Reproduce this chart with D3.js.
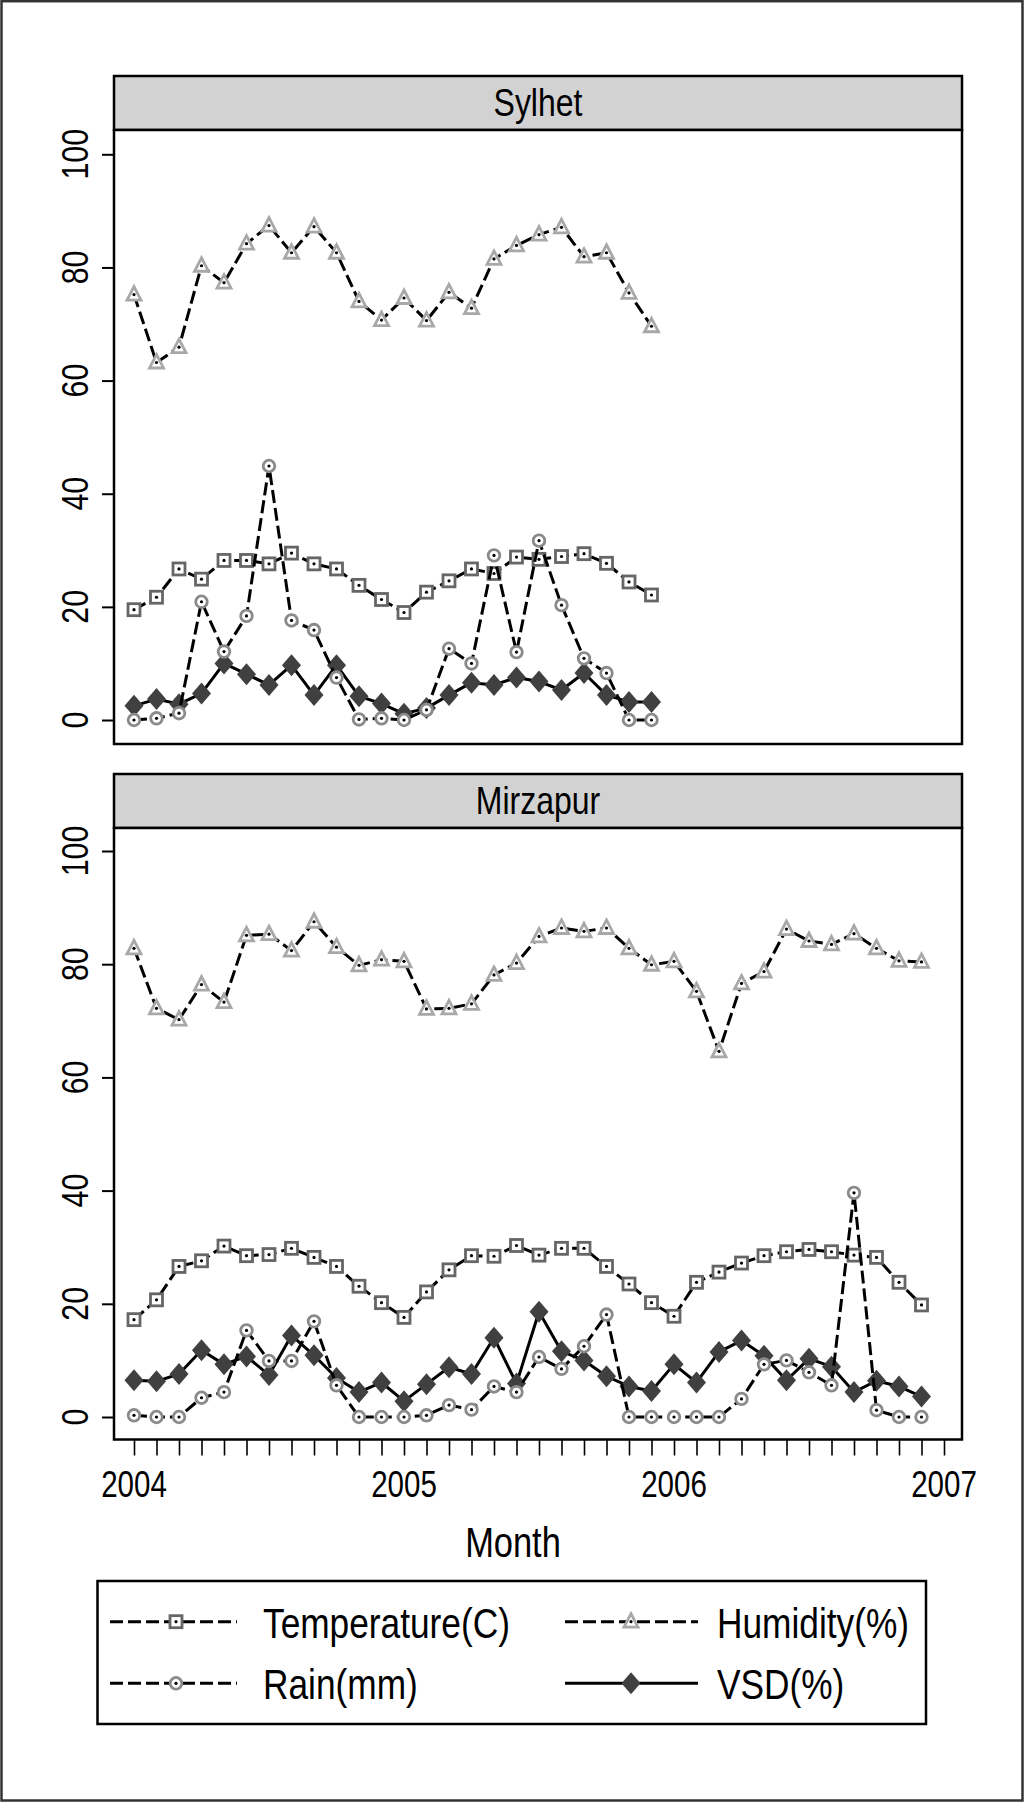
<!DOCTYPE html>
<html><head><meta charset="utf-8">
<script src="https://cdn.jsdelivr.net/npm/d3@7"></script>
<style>html,body{margin:0;padding:0;background:#fff;} svg{display:block;}</style>
</head><body>
<svg id="chart" width="1024" height="1802"></svg>
<script>
// ---------------- DATA ----------------
const panels = ["Sylhet", "Mirzapur"];
const seriesNames = ["Temperature(C)", "Humidity(%)", "Rain(mm)", "VSD(%)"];
const yearLabels = ["2004", "2005", "2006", "2007"];
const yTicks = [0, 20, 40, 60, 80, 100];
const xAxisTitle = "Month";

// Sylhet: Jan 2004 - Dec 2005 (24 months)
const sylhetTemp = [19.5, 21.7, 26.7, 24.9, 28.2, 28.2, 27.6, 29.5, 27.6, 26.7, 23.8, 21.3,
                    19.0, 22.6, 24.6, 26.7, 25.9, 28.8, 28.4, 28.9, 29.4, 27.7, 24.4, 22.1];
const sylhetHum  = [75.2, 63.2, 65.9, 80.3, 77.3, 84.2, 87.4, 82.6, 87.2, 82.6, 74.0, 70.7,
                    74.6, 70.6, 75.6, 72.8, 81.5, 83.9, 85.8, 87.1, 81.9, 82.6, 75.5, 69.6];
const sylhetRain = [0.0, 0.3, 1.2, 20.9, 12.1, 18.4, 44.9, 17.6, 15.9, 7.5, 0.1, 0.3,
                    0.0, 1.8, 12.6, 10.0, 29.1, 12.0, 31.7, 20.3, 10.9, 8.3, 0.0, 0.0];
const sylhetVSD  = [2.5, 3.7, 2.8, 4.7, 10.0, 8.1, 6.2, 9.7, 4.4, 9.7, 4.2, 2.9,
                    1.1, 2.1, 4.4, 6.6, 6.2, 7.5, 6.8, 5.3, 8.3, 4.4, 3.2, 3.2];

// Mirzapur: Jan 2004 - Dec 2006 (36 months)
const mirzTemp = [17.2, 20.7, 26.6, 27.6, 30.2, 28.5, 28.7, 29.8, 28.2, 26.6, 23.1, 20.2,
                  17.6, 22.1, 26.0, 28.5, 28.4, 30.3, 28.6, 29.8, 29.8, 26.6, 23.5, 20.2,
                  17.8, 23.8, 25.6, 27.2, 28.5, 29.2, 29.6, 29.2, 28.6, 28.2, 23.8, 19.8];
const mirzHum  = [82.8, 72.2, 70.2, 76.4, 73.3, 85.1, 85.3, 82.4, 87.5, 83.0, 79.8, 80.8,
                  80.5, 72.1, 72.2, 73.0, 78.1, 80.2, 84.9, 86.4, 85.8, 86.4, 82.8, 79.9,
                  80.5, 75.2, 64.6, 76.6, 78.7, 86.2, 84.1, 83.5, 85.4, 82.8, 80.6, 80.4];
const mirzRain = [0.3, 0.0, 0.0, 3.4, 4.4, 15.3, 9.9, 9.9, 16.9, 5.6, 0.0, 0.0,
                  0.0, 0.3, 2.1, 1.3, 5.4, 4.4, 10.6, 8.5, 12.5, 18.1, 0.0, 0.0,
                  0.0, 0.0, 0.0, 3.2, 9.3, 10.0, 7.9, 5.6, 39.6, 1.2, 0.0, 0.0];
const mirzVSD  = [6.5, 6.3, 7.6, 11.8, 9.3, 10.7, 7.4, 14.4, 10.9, 6.9, 4.4, 6.1,
                  2.8, 5.8, 8.8, 7.6, 14.0, 5.9, 18.6, 11.6, 10.0, 7.2, 5.4, 4.6,
                  9.3, 6.1, 11.5, 13.5, 10.8, 6.5, 10.3, 8.9, 4.4, 6.4, 5.4, 3.6];

const panelData = [
  [sylhetTemp, sylhetHum, sylhetRain, sylhetVSD],
  [mirzTemp, mirzHum, mirzRain, mirzVSD]
];

// ---------------- LAYOUT / STYLE ----------------
const FONT = "'Liberation Sans Narrow','Arial Narrow',sans-serif";
const svg = d3.select("#chart");
const plotL = 114, plotR = 962;
const geom = [
  {stripTop: 76,  plotTop: 130, plotBottom: 744,  y0: 720,  y100: 154.3},
  {stripTop: 774, plotTop: 828, plotBottom: 1439.5, y0: 1417, y100: 851}
];
const x = d3.scaleLinear().domain([0, 36]).range([134, 944]);

const seriesStyle = [
  {marker: "square",   color: "#666666", dash: "13,5"},
  {marker: "triangle", color: "#a8a8a8", dash: "13,5"},
  {marker: "circle",   color: "#8a8a8a", dash: "13,5"},
  {marker: "diamond",  color: "#404040", dash: null}
];
const drawOrder = [3, 0, 1, 2];

function drawMarker(g, type, color, cx, cy) {
  if (type === "square") {
    g.append("rect").attr("x", cx - 6).attr("y", cy - 6).attr("width", 12).attr("height", 12)
      .attr("fill", "#fff").attr("stroke", color).attr("stroke-width", 2.8);
  } else if (type === "triangle") {
    g.append("path").attr("d", `M${cx},${cy - 8}L${cx + 7},${cy + 5.5}L${cx - 7},${cy + 5.5}Z`)
      .attr("fill", "#fff").attr("stroke", color).attr("stroke-width", 2.8).attr("stroke-linejoin", "miter");
  } else if (type === "circle") {
    g.append("circle").attr("cx", cx).attr("cy", cy).attr("r", 5.8)
      .attr("fill", "#fff").attr("stroke", color).attr("stroke-width", 2.8);
  } else if (type === "diamond") {
    g.append("path").attr("d", `M${cx},${cy - 11}L${cx + 9.5},${cy}L${cx},${cy + 11}L${cx - 9.5},${cy}Z`)
      .attr("fill", color).attr("stroke", "none");
    return;
  }
  g.append("circle").attr("cx", cx).attr("cy", cy).attr("r", 1.6).attr("fill", "#000");
}

// outer frame
svg.append("rect").attr("x", 1.5).attr("y", 1.2).attr("width", 1021).attr("height", 1799.3)
  .attr("fill", "#fff").attr("stroke", "#333").attr("stroke-width", 2.5);

panels.forEach((name, pi) => {
  const G = geom[pi];
  const y = d3.scaleLinear().domain([0, 100]).range([G.y0, G.y100]);
  const g = svg.append("g");

  // strip
  g.append("rect").attr("x", plotL).attr("y", G.stripTop).attr("width", plotR - plotL)
    .attr("height", G.plotTop - G.stripTop).attr("fill", "#d2d2d2").attr("stroke", "#000").attr("stroke-width", 2.5);
  g.append("text").attr("class", "t").attr("x", (plotL + plotR) / 2).attr("y", G.stripTop + 39.5)
    .attr("text-anchor", "middle").attr("font-size", 39).text(name);

  // plot frame
  g.append("rect").attr("x", plotL).attr("y", G.plotTop).attr("width", plotR - plotL)
    .attr("height", G.plotBottom - G.plotTop).attr("fill", "#fff").attr("stroke", "#000").attr("stroke-width", 2.5);

  // y axis ticks
  const yAxis = d3.axisLeft(y).tickValues(yTicks).tickSize(12).tickFormat("");
  const ya = g.append("g").attr("transform", `translate(${plotL},0)`).call(yAxis);
  ya.select(".domain").remove();
  ya.selectAll("line").attr("stroke", "#000").attr("stroke-width", 2);

  g.selectAll(".ylab").data(yTicks).enter().append("text").attr("class", "t")
    .attr("transform", d => `translate(88,${y(d)}) rotate(-90)`)
    .attr("text-anchor", "middle").attr("font-size", 37).text(d => d);

  // series
  const data = panelData[pi];
  drawOrder.forEach(si => {
    const st = seriesStyle[si];
    const vals = data[si];
    const line = d3.line().x((d, i) => x(i)).y(d => y(d));
    const sg = g.append("g");
    sg.append("path").attr("d", line(vals)).attr("fill", "none").attr("stroke", "#000")
      .attr("stroke-width", 3).attr("stroke-dasharray", st.dash).attr("stroke-linejoin", "round");
    vals.forEach((v, i) => drawMarker(sg, st.marker, st.color, x(i), y(v)));
  });

  if (pi === 1) {
    // x axis below
    const xAxis = d3.axisBottom(x).tickValues(d3.range(37)).tickSize(16).tickFormat("");
    const xa = g.append("g").attr("transform", `translate(0,${G.plotBottom})`).call(xAxis);
    xa.select(".domain").remove();
    xa.selectAll("line").attr("stroke", "#000").attr("stroke-width", 1.6);
    g.selectAll(".xlab").data(yearLabels).enter().append("text").attr("class", "t")
      .attr("x", (d, i) => x(i * 12)).attr("y", 1497).attr("text-anchor", "middle")
      .attr("font-size", 36).text(d => d);
  }
});

// x title
svg.append("text").attr("class", "t").attr("x", 513).attr("y", 1557).attr("text-anchor", "middle")
  .attr("font-size", 42).text(xAxisTitle);

// legend
const lg = svg.append("g");
lg.append("rect").attr("x", 97.5).attr("y", 1581).attr("width", 828.5).attr("height", 143)
  .attr("fill", "#fff").attr("stroke", "#000").attr("stroke-width", 2.5);
const legendPos = [
  {row: 0, col: 0}, {row: 0, col: 1}, {row: 1, col: 0}, {row: 1, col: 1}
];
const rowY = [1621.7, 1683.3];
const colX = [{x1: 110, x2: 237, m: 176, t: 263}, {x1: 565, x2: 698, m: 631, t: 717}];
seriesNames.forEach((nm, si) => {
  const p = legendPos[si], st = seriesStyle[si];
  const cy = rowY[p.row], c = colX[p.col];
  lg.append("line").attr("x1", c.x1).attr("x2", c.x2).attr("y1", cy).attr("y2", cy)
    .attr("stroke", "#000").attr("stroke-width", 3).attr("stroke-dasharray", st.dash);
  drawMarker(lg, st.marker, st.color, c.m, cy);
  lg.append("text").attr("class", "t").attr("x", c.t).attr("y", cy + 16)
    .attr("font-size", 43).text(nm);
});

// font handling: use narrow font; if unavailable, compress regular font
const allText = svg.selectAll("text.t").attr("font-family", FONT).attr("fill", "#000");
const probe1 = svg.append("text").attr("font-family", "'Liberation Sans Narrow'").attr("font-size", 40).text("Temperature(C) 2004");
const probe2 = svg.append("text").attr("font-family", "'Liberation Sans'").attr("font-size", 40).text("Temperature(C) 2004");
const ratio = probe1.node().getComputedTextLength() / probe2.node().getComputedTextLength();
probe1.remove(); probe2.remove();
if (ratio > 0.9) {
  allText.attr("font-family", "'Liberation Sans', Arial, sans-serif").each(function () {
    const L = this.getComputedTextLength();
    d3.select(this).attr("textLength", L * 0.82).attr("lengthAdjust", "spacingAndGlyphs");
  });
}
</script>
</body></html>
